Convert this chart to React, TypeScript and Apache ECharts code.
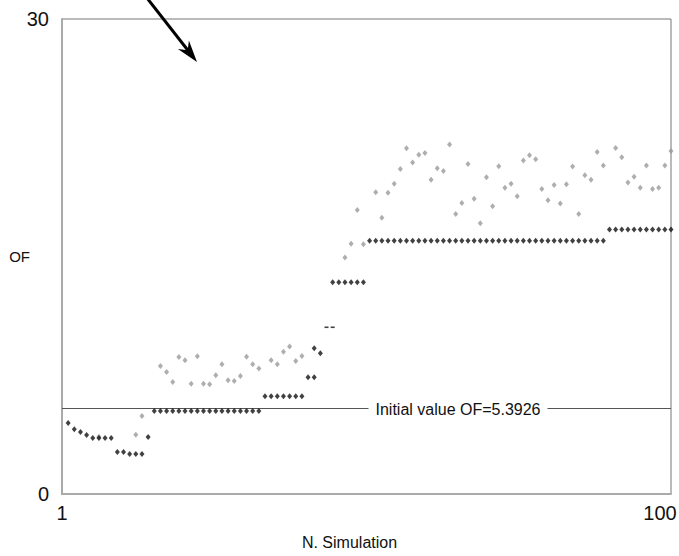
import React, { useEffect, useRef } from "react";
import * as echarts from "echarts";

const simulations = [
  "1","2","3","4","5","6","7","8","9","10",
  "11","12","13","14","15","16","17","18","19","20",
  "21","22","23","24","25","26","27","28","29","30",
  "31","32","33","34","35","36","37","38","39","40",
  "41","42","43","44","45","46","47","48","49","50",
  "51","52","53","54","55","56","57","58","59","60",
  "61","62","63","64","65","66","67","68","69","70",
  "71","72","73","74","75","76","77","78","79","80",
  "81","82","83","84","85","86","87","88","89","90",
  "91","92","93","94","95","96","97","98","99","100",
];

// Best OF found so far (black diamonds), one value per simulation
const bestOF = [
  null, 4.48, 4.09, 3.92, 3.73, 3.54, 3.54, 3.54, 3.54, 2.65,
  2.65, 2.53, 2.53, 2.53, 3.6, 5.25, 5.25, 5.25, 5.25, 5.25,
  5.25, 5.25, 5.25, 5.25, 5.25, 5.25, 5.25, 5.25, 5.25, 5.25,
  5.25, 5.25, 5.25, 6.17, 6.17, 6.17, 6.17, 6.17, 6.17, 6.17,
  7.37, 7.37, 8.89, null, 13.37, 13.37, 13.37, 13.37, 13.37, 13.37,
  16.0, 16.0, 16.0, 16.0, 16.0, 16.0, 16.0, 16.0, 16.0, 16.0,
  16.0, 16.0, 16.0, 16.0, 16.0, 16.0, 16.0, 16.0, 16.0, 16.0,
  16.0, 16.0, 16.0, 16.0, 16.0, 16.0, 16.0, 16.0, 16.0, 16.0,
  16.0, 16.0, 16.0, 16.0, 16.0, 16.0, 16.0, 16.0, 16.0, 16.7,
  16.7, 16.7, 16.7, 16.7, 16.7, 16.7, 16.7, 16.7, 16.7, 16.7,
];

// OF of each simulation (grey diamonds); null where hidden by the best value
const currentOF = [
  null, null, null, null, null, null, 3.62, null, null, null,
  null, null, 3.75, 4.93, null, null, 8.09, 7.71, 7.07, 8.65,
  8.44, 6.97, 8.7, 6.97, 6.93, 7.5, 8.19, 7.18, 7.14, 7.45,
  8.67, 8.19, 7.92, null, 8.44, 8.19, 8.99, 9.31, 8.4, 8.72,
  null, null, null, null, null, null, 14.93, 15.81, 17.94, 15.77,
  null, 19.06, 17.45, 19.03, 19.6, 20.53, 21.84, 20.93, 21.42, 21.54,
  19.84, 20.57, 20.4, 22.07, 17.69, 18.38, 20.85, 18.65, 17.1, 20.0,
  18.17, 20.7, 19.35, 19.6, 18.81, 21.06, 21.4, 21.14, 19.27, 18.55,
  19.52, 18.34, 19.56, 20.68, 17.69, 20.13, 19.84, 21.6, 20.74, null,
  21.86, 21.27, 19.67, 20.04, 19.35, 20.74, 19.27, 19.35, 20.74, 21.67,
];

// Extra dark marks around the jump
const extraSims = ["42"];
const extraOF = [9.2];
const dashSims = ["44", "45"];
const dashOF = [10.53, 10.53];

const initialOF = 5.3926;
const yTicks = [0, 30];

const FONT = "'Liberation Sans', Arial, Helvetica, sans-serif";

export default function App() {
  const ref = useRef<HTMLDivElement>(null);

  useEffect(() => {
    if (!ref.current) return;
    const chart = echarts.init(ref.current, null, { renderer: "svg" });
    const option: any = {
      animation: false,
      backgroundColor: "#fff",
      grid: {
        left: 62,
        top: 19,
        right: 8,
        bottom: 62,
        show: true,
        borderColor: "#777",
        borderWidth: 1,
        containLabel: false,
        outerBoundsMode: "none",
      },
      xAxis: {
        type: "category",
        data: simulations,
        boundaryGap: false,
        axisTick: { show: false },
        axisLine: { show: true, lineStyle: { color: "#aaa", width: 2 } },
        splitLine: { show: false },
        axisLabel: {
          interval: (index: number) => index === 0 || index === simulations.length - 1,
          fontSize: 20,
          fontFamily: FONT,
          color: "#111",
          margin: 9,
          formatter: (v: string) => (v === "100" ? "{r|" + v + "}" : v),
          rich: {
            r: { fontSize: 20, fontFamily: FONT, color: "#111", padding: [0, 22, 0, 0] },
          },
        },
        name: "N. Simulation",
        nameLocation: "middle",
        nameGap: 40,
        nameTextStyle: {
          fontSize: 16,
          fontFamily: FONT,
          color: "#111",
          padding: [0, 34, 0, 0],
        },
      },
      yAxis: {
        type: "value",
        min: yTicks[0],
        max: yTicks[1],
        interval: yTicks[1] - yTicks[0],
        axisTick: { show: false },
        axisLine: { show: true, lineStyle: { color: "#aaa", width: 2 } },
        splitLine: { show: false },
        axisLabel: { fontSize: 20, fontFamily: FONT, color: "#111", margin: 13 },
        name: "OF",
        nameLocation: "middle",
        nameRotate: 0,
        nameGap: 32,
        nameMoveOverlap: false,
        nameTextStyle: { fontSize: 15, fontFamily: FONT, color: "#111" },
      },
      series: [
        {
          name: "Current OF",
          type: "scatter",
          data: currentOF,
          symbol: "diamond",
          symbolSize: [5, 6],
          itemStyle: { color: "#9a9a9a" },
          z: 2,
          markLine: {
            silent: true,
            symbol: "none",
            label: { show: false },
            lineStyle: { color: "#555", width: 1, type: "solid" },
            data: [{ yAxis: initialOF }],
            z: 1,
          },
        },
        {
          name: "Best OF",
          type: "scatter",
          data: bestOF,
          symbol: "diamond",
          symbolSize: [5, 6],
          itemStyle: { color: "#111" },
          z: 3,
        },
        {
          name: "Best OF extra",
          type: "scatter",
          data: extraSims.map((s, i) => [s, extraOF[i]]),
          symbol: "diamond",
          symbolSize: [5, 6],
          itemStyle: { color: "#111" },
          z: 3,
        },
        {
          name: "Best OF dash",
          type: "scatter",
          data: dashSims.map((s, i) => [s, dashOF[i]]),
          symbol: "rect",
          symbolSize: [4, 1.6],
          itemStyle: { color: "#111" },
          z: 3,
        },
      ],
    };
    chart.setOption(option);

    const yPix = chart.convertToPixel({ yAxisIndex: 0 }, initialOF) as number;
    chart.setOption({
      graphic: [
        {
          type: "text",
          x: 458,
          y: yPix + 1,
          z: 100,
          style: {
            text: "Initial value OF=" + initialOF,
            fontSize: 16,
            fontFamily: FONT,
            fill: "#111",
            align: "center",
            verticalAlign: "middle",
            backgroundColor: "#fff",
            padding: [2, 7, 2, 7],
          },
        },
        {
          type: "line",
          z: 100,
          shape: { x1: 147, y1: -2, x2: 190, y2: 53 },
          style: { stroke: "#000", lineWidth: 3 },
        },
        {
          type: "polygon",
          z: 100,
          shape: {
            points: [
              [197, 62],
              [177.9, 49.0],
              [187.7, 50.2],
              [188.9, 40.4],
            ],
          },
          style: { fill: "#000" },
        },
      ],
    });

    return () => chart.dispose();
  }, []);

  return (
    <div
      ref={ref}
      style={{ position: "absolute", left: 0, top: 0, width: 679, height: 556 }}
    />
  );
}
